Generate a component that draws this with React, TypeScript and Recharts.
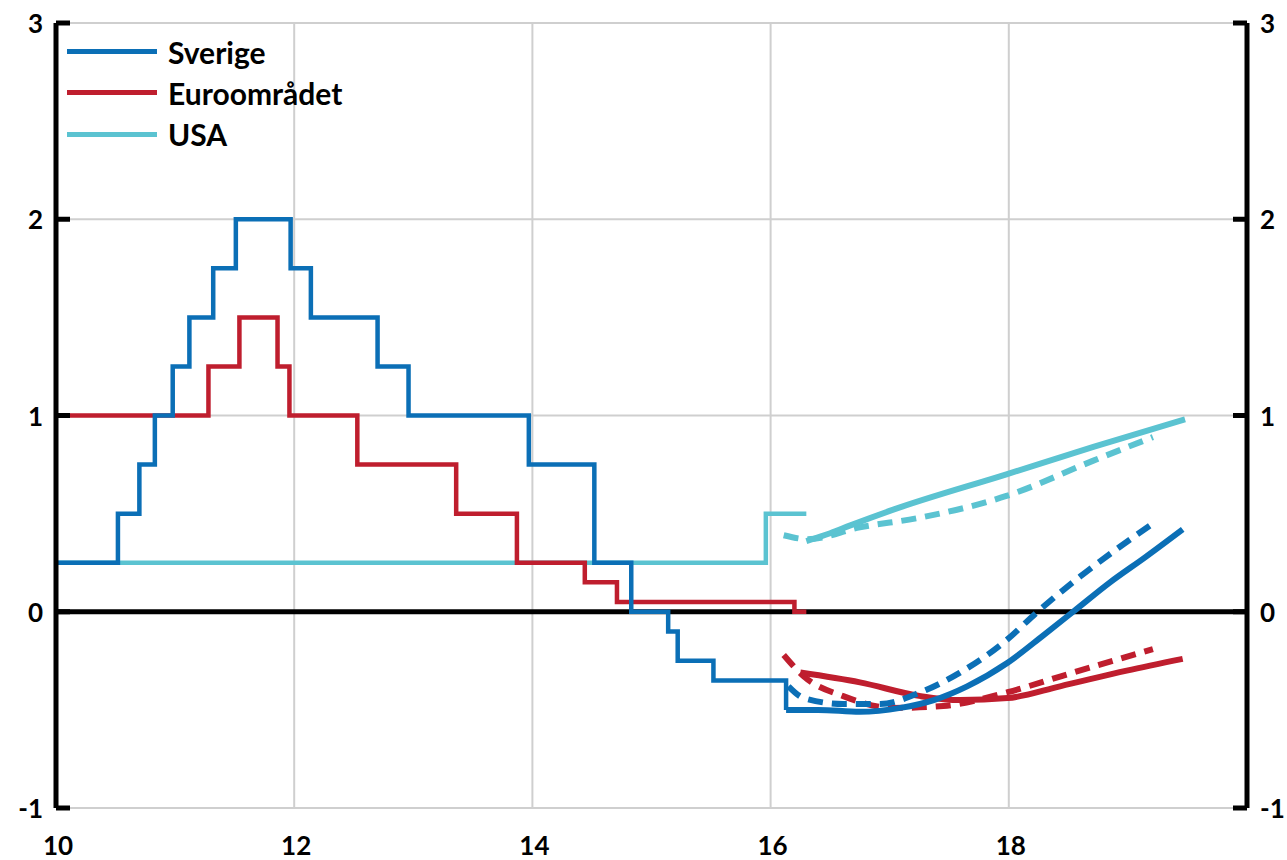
import React from 'react';
import { LineChart, Line, XAxis, YAxis, CartesianGrid, ReferenceLine, Legend } from 'recharts';

const BLUE = '#0B6FB6';
const RED = '#BF1E2E';
const CYAN = '#5BC3D1';
const FONT = 'Lato, "Open Sans", sans-serif';

// utfall, trappsteg (år, procent)
const sverigeDates = [10, 10.52, 10.7, 10.83, 10.98, 11.12, 11.32, 11.51, 11.97, 12.14, 12.7, 12.96, 13.97, 14.52, 14.83, 15.14, 15.22, 15.52, 16.13];
const sverigeRates = [0.25, 0.5, 0.75, 1, 1.25, 1.5, 1.75, 2, 1.75, 1.5, 1.25, 1, 0.75, 0.25, 0, -0.1, -0.25, -0.35, -0.5];

const euroDates = [10, 11.28, 11.54, 11.86, 11.96, 12.53, 13.36, 13.87, 14.44, 14.71, 16.2, 16.3];
const euroRates = [1, 1.25, 1.5, 1.25, 1, 0.75, 0.5, 0.25, 0.15, 0.05, 0, 0];

const usaDates = [10, 15.96, 16.3];
const usaRates = [0.25, 0.5, 0.5];

// prognoser, heldragen = nuvarande, streckad = föregående
const sverigeForecastX = [16.13, 16.4, 16.75, 17.09, 17.37, 17.65, 17.99, 18.29, 18.54, 18.85, 19.15, 19.46];
const sverigeForecast = [-0.5, -0.5, -0.51, -0.49, -0.45, -0.38, -0.26, -0.12, 0.0, 0.15, 0.28, 0.42];
const sverigePrevX = [16.15, 16.28, 16.61, 16.92, 17.26, 17.59, 17.95, 18.26, 18.6, 18.93, 19.21];
const sverigePrev = [-0.38, -0.44, -0.47, -0.47, -0.41, -0.31, -0.16, 0.01, 0.18, 0.33, 0.45];

const euroForecastX = [16.25, 16.75, 17.26, 17.59, 17.99, 18.43, 18.99, 19.46];
const euroForecast = [-0.31, -0.36, -0.43, -0.45, -0.44, -0.38, -0.3, -0.24];
const euroPrevX = [16.11, 16.28, 16.61, 17.03, 17.45, 17.99, 18.43, 19.21];
const euroPrev = [-0.22, -0.33, -0.43, -0.49, -0.48, -0.41, -0.33, -0.19];

const usaForecastX = [16.3, 16.5, 16.67, 17.03, 17.98, 18.71, 19.48];
const usaForecast = [0.36, 0.4, 0.44, 0.52, 0.7, 0.84, 0.98];
const usaPrevX = [16.11, 16.31, 16.75, 17.26, 17.98, 18.71, 19.21];
const usaPrev = [0.39, 0.37, 0.43, 0.48, 0.59, 0.77, 0.89];

const xTicks = [10, 12, 14, 16, 18];
const yTicks = [-1, 0, 1, 2, 3];
const legendOrder = ['Sverige', 'Euroområdet', 'USA'];

const zip = (xs: number[], ys: number[]) => xs.map((x, i) => ({ x, y: ys[i] }));

const YTick = (props: any) => {
  const { x, y, payload, side } = props;
  const dir = side === 'left' ? 1 : -1;
  return (
    <g>
      <line x1={x} x2={x + dir * 14} y1={y} y2={y} stroke="#000" strokeWidth={5} />
      <text
        x={x - dir * 13}
        y={y}
        textAnchor={side === 'left' ? 'end' : 'start'}
        dominantBaseline="central"
        style={{ fontFamily: FONT, fontWeight: 700, fontSize: 26, fill: '#000' }}
      >
        {payload.value}
      </text>
    </g>
  );
};

const XTick = (props: any) => {
  const { x, y, payload } = props;
  return (
    <text
      x={x + 2}
      y={y + 37}
      textAnchor="middle"
      dominantBaseline="central"
      style={{ fontFamily: FONT, fontWeight: 700, fontSize: 26, fill: '#000' }}
    >
      {payload.value}
    </text>
  );
};

const LegendContent = (props: any) => {
  const items = (props.payload || [])
    .filter((e: any) => legendOrder.includes(e.value))
    .sort((a: any, b: any) => legendOrder.indexOf(a.value) - legendOrder.indexOf(b.value));
  return (
    <ul style={{ listStyle: 'none', padding: 0, margin: 0 }}>
      {items.map((entry: any, index: number) => (
        <li
          key={`item-${index}`}
          style={{ display: 'flex', alignItems: 'center', height: '41.3px' }}
        >
          <div style={{ width: '90px', height: '5px', backgroundColor: entry.color, marginRight: '11px' }} />
          <span style={{ fontFamily: FONT, fontWeight: 700, fontSize: '30px', color: '#000' }}>
            {entry.value}
          </span>
        </li>
      ))}
    </ul>
  );
};

const App = () => (
  <div style={{ position: 'absolute', left: 0, top: 0 }}>
    <LineChart width={1287} height={860} margin={{ top: 23, right: 0, bottom: 0, left: 0 }}>
      <CartesianGrid yAxisId="left" stroke="#CFCFCF" strokeWidth={2} />
      <XAxis
        dataKey="x"
        type="number"
        domain={[10, 20]}
        ticks={xTicks}
        allowDataOverflow
        axisLine={false}
        tickLine={false}
        tickSize={0}
        tickMargin={0}
        height={52}
        tick={<XTick />}
      />
      <YAxis
        yAxisId="left"
        orientation="left"
        type="number"
        domain={[-1, 3]}
        ticks={yTicks}
        allowDataOverflow
        width={56}
        axisLine={{ stroke: '#000', strokeWidth: 5 }}
        tickLine={false}
        tickSize={0}
        tickMargin={0}
        tick={(p: any) => <YTick {...p} side="left" />}
      />
      <YAxis
        yAxisId="right"
        orientation="right"
        type="number"
        domain={[-1, 3]}
        ticks={yTicks}
        allowDataOverflow
        width={40}
        axisLine={{ stroke: '#000', strokeWidth: 5 }}
        tickLine={false}
        tickSize={0}
        tickMargin={0}
        tick={(p: any) => <YTick {...p} side="right" />}
      />
      <ReferenceLine yAxisId="left" y={0} stroke="#000" strokeWidth={5} />

      <Line yAxisId="left" data={zip(usaDates, usaRates)} dataKey="y" name="USA" type="stepAfter" stroke={CYAN} strokeWidth={4.5} dot={false} isAnimationActive={false} />
      <Line yAxisId="right" data={zip(usaPrevX, usaPrev)} dataKey="y" name="USA föregående" legendType="none" type="monotone" stroke={CYAN} strokeWidth={6} strokeDasharray="15 9" dot={false} isAnimationActive={false} />
      <Line yAxisId="left" data={zip(usaForecastX, usaForecast)} dataKey="y" name="USA prognos" legendType="none" type="monotone" stroke={CYAN} strokeWidth={6} dot={false} isAnimationActive={false} />

      <Line yAxisId="left" data={zip(euroDates, euroRates)} dataKey="y" name="Euroområdet" type="stepAfter" stroke={RED} strokeWidth={4.5} dot={false} isAnimationActive={false} />
      <Line yAxisId="left" data={zip(euroPrevX, euroPrev)} dataKey="y" name="Euroområdet föregående" legendType="none" type="monotone" stroke={RED} strokeWidth={6} strokeDasharray="15 9" dot={false} isAnimationActive={false} />
      <Line yAxisId="left" data={zip(euroForecastX, euroForecast)} dataKey="y" name="Euroområdet prognos" legendType="none" type="monotone" stroke={RED} strokeWidth={6} dot={false} isAnimationActive={false} />

      <Line yAxisId="left" data={zip(sverigeDates, sverigeRates)} dataKey="y" name="Sverige" type="stepAfter" stroke={BLUE} strokeWidth={4.5} dot={false} isAnimationActive={false} />
      <Line yAxisId="left" data={zip(sverigePrevX, sverigePrev)} dataKey="y" name="Sverige föregående" legendType="none" type="monotone" stroke={BLUE} strokeWidth={6} strokeDasharray="15 9" dot={false} isAnimationActive={false} />
      <Line yAxisId="left" data={zip(sverigeForecastX, sverigeForecast)} dataKey="y" name="Sverige prognos" legendType="none" type="monotone" stroke={BLUE} strokeWidth={6} dot={false} isAnimationActive={false} />

      <Legend
        layout="horizontal"
        verticalAlign="middle"
        align="center"
        wrapperStyle={{ top: 31, left: 67, width: 340 }}
        content={<LegendContent />}
      />
    </LineChart>
  </div>
);

export default App;
